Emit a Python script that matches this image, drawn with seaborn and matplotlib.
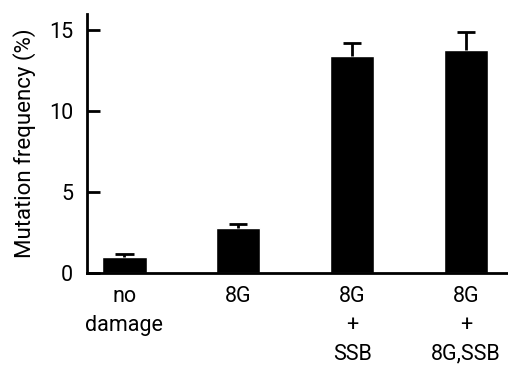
#importing the required libraries
import pandas as pd
import matplotlib
matplotlib.use("Agg")
import matplotlib.pyplot as plt
import seaborn as sns

#values
conditions = ["no\ndamage", "8G", "8G\n+\nSSB", "8G\n+\n8G,SSB"]
frequency = [1.0, 2.8, 13.4, 13.8]
upper_err = [0.2, 0.22, 0.8, 1.1]
y_ticks = [0, 5, 10, 15]

df = pd.DataFrame({"condition": conditions, "frequency": frequency})
df["top"] = df["frequency"] + pd.Series(upper_err)

sns.set_style("ticks", {"axes.edgecolor": "black", "text.color": "black",
                        "axes.labelcolor": "black", "xtick.color": "black",
                        "ytick.color": "black"})
plt.rcParams['font.family'] = ['Roboto', 'DejaVu Sans']

fig = plt.figure(figsize=(5.08, 3.67), dpi=100)
ax = fig.add_axes([0.171, 0.256, 0.829, 0.706])

sns.barplot(data=df, x="condition", y="frequency", color="black",
            width=0.39, errorbar=None, saturation=1, ax=ax)

#upper error bars only: stem from bar top plus a cap
pos = list(range(len(df)))
ax.vlines(pos, df["frequency"], df["top"], color="black", linewidth=2, zorder=1)
ax.hlines(df["top"], [p - 0.08 for p in pos], [p + 0.08 for p in pos],
          color="black", linewidth=2)

ax.set_xlim(-0.33, 3.37)
ax.set_ylim(0, 16)
ax.set_yticks(y_ticks)
ax.set_ylabel("Mutation frequency (%)", fontsize=16, labelpad=9)
ax.set_xlabel("")

sns.despine(ax=ax)
for side in ["left", "bottom"]:
    ax.spines[side].set_linewidth(2)
ax.tick_params(axis="y", direction="in", length=9, width=2, labelsize=15.5, pad=10)
ax.tick_params(axis="x", length=0, labelsize=15.5, pad=9)
for lab in ax.get_xticklabels():
    lab.set_linespacing(1.5)
    lab.set_verticalalignment("top")

fig.savefig("out.png", dpi=100)
